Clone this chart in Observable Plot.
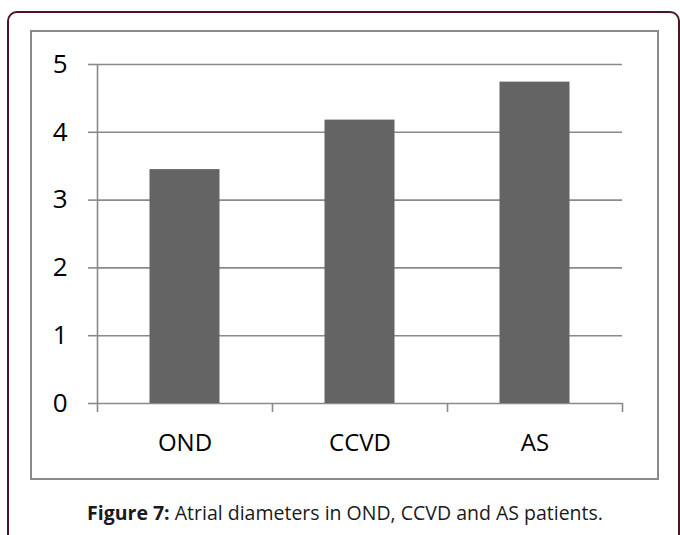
<!DOCTYPE html>
<html><head><meta charset="utf-8">
<script src="https://cdn.jsdelivr.net/npm/d3@7"></script>
<script src="https://cdn.jsdelivr.net/npm/@observablehq/plot@0.6"></script>
<style>
html,body{margin:0;padding:0;background:#fff;width:680px;height:535px;overflow:hidden;position:relative;font-family:"Open Sans",sans-serif}
#outer{position:absolute;left:7px;top:11px;width:673px;height:620px;box-sizing:border-box;border:2px solid #4b1525;border-radius:10px}
#inner{position:absolute;left:30px;top:30px;width:629px;height:450px;box-sizing:border-box;border:2px solid #8a8a8a}
#chart{position:absolute;left:0;top:0}
#caption{position:absolute;left:5px;width:680px;top:500px;text-align:center;font-size:19.5px;line-height:1.362;color:#1a1a1a;white-space:nowrap}
</style></head>
<body>
<div id="outer"></div>
<div id="inner"></div>
<div id="chart"></div>
<div id="caption"><b>Figure 7:</b> Atrial diameters in OND, CCVD and AS patients.</div>
<script>
const categories = ["OND", "CCVD", "AS"];
const values = [3.45, 4.18, 4.74];
const yTicks = [0, 1, 2, 3, 4, 5];

const data = categories.map((name, i) => ({name, i, value: values[i]}));
const bounds = d3.range(categories.length + 1);
const centers = categories.map((c, i) => i + 0.5);
const gray = "#8a8a8a";

const chart = Plot.plot({
  width: 680,
  height: 480,
  marginLeft: 97,
  marginRight: 58,
  marginTop: 64,
  marginBottom: 77,
  style: {fontFamily: "'Open Sans', sans-serif", background: "transparent", overflow: "visible"},
  x: {type: "linear", domain: [0, categories.length]},
  y: {domain: [0, 5]},
  marks: [
    Plot.gridY(yTicks, {stroke: gray, strokeOpacity: 1, strokeWidth: 1.6}),
    Plot.rectY(data, {x1: "i", x2: d => d.i + 1, y: "value", fill: "#646464", insetLeft: 52.5, insetRight: 52.5}),
    Plot.ruleX([0], {y1: 0, y2: 5, stroke: gray, strokeWidth: 1.6}),
    Plot.axisY(yTicks, {tickSize: 9, tickPadding: 21, fontSize: 26, stroke: gray, strokeWidth: 1.6, fill: "#000", tickFormat: d3.format("d"), label: null}),
    Plot.axisX(bounds, {tickSize: 9, tickFormat: () => "", stroke: gray, strokeWidth: 1.6, label: null}),
    Plot.axisX(centers, {tickSize: 0, tickPadding: 30, fontSize: 24, fill: "#000", tickFormat: d => categories[Math.round(d - 0.5)], label: null})
  ]
});
document.getElementById("chart").appendChild(chart);
</script>
</body></html>
